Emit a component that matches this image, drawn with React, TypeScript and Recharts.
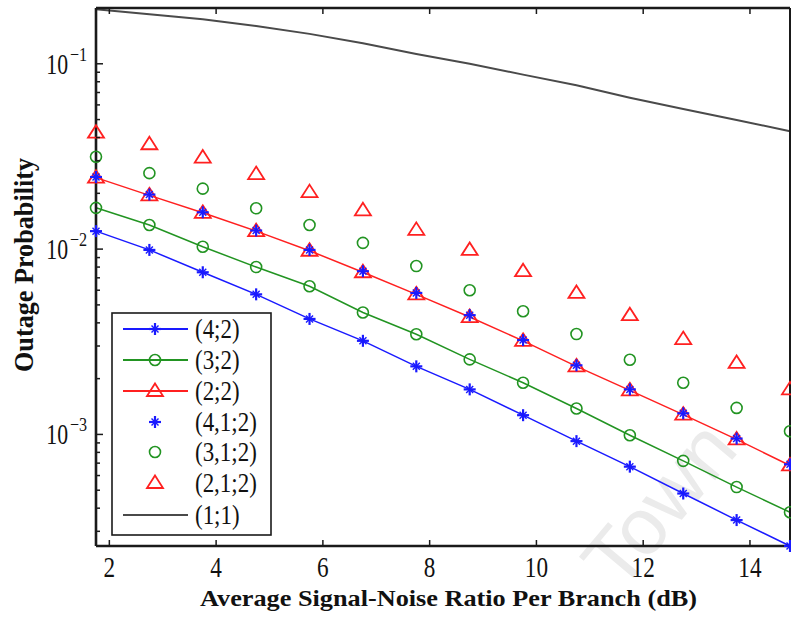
import React from 'react'
import { LineChart, Line, XAxis, YAxis, Legend, Label } from 'recharts'

// SNR per branch (dB)
const snr = [1.75, 2.75, 3.75, 4.75, 5.75, 6.75, 7.75, 8.75, 9.75, 10.75, 11.75, 12.75, 13.75, 14.75]

// outage probability per scheme
const out42 = [0.0125, 0.0099, 0.0075, 0.0057, 0.0042, 0.0032, 0.00233, 0.00175, 0.00127, 0.00092, 0.00067, 0.00048, 0.000345, 0.00025]
const out32 = [0.0167, 0.0135, 0.0103, 0.008, 0.0063, 0.00455, 0.00347, 0.00254, 0.0019, 0.00138, 0.00099, 0.00072, 0.00052, 0.00038]
const out22 = [0.0243, 0.0195, 0.0157, 0.0125, 0.0098, 0.0075, 0.0057, 0.0043, 0.0032, 0.00233, 0.00173, 0.00128, 0.00094, 0.00068]
const out412 = [0.0245, 0.0197, 0.0158, 0.0126, 0.0099, 0.0076, 0.0058, 0.0044, 0.00323, 0.00236, 0.00175, 0.0013, 0.00095, 0.00069]
const out312 = [0.0315, 0.0257, 0.0212, 0.0166, 0.0135, 0.0108, 0.0081, 0.006, 0.00462, 0.00348, 0.00253, 0.0019, 0.00139, 0.00104]
const out212 = [0.0425, 0.0368, 0.0312, 0.0254, 0.0203, 0.0162, 0.0127, 0.0099, 0.0076, 0.0058, 0.0044, 0.00327, 0.00243, 0.00175]
const out11 = [0.197, 0.185, 0.174, 0.16, 0.145, 0.129, 0.113, 0.1, 0.0874, 0.0766, 0.0656, 0.057, 0.0497, 0.0433]

const xTicks = [2, 4, 6, 8, 10, 12, 14]
const yTicks = [
  3e-4, 4e-4, 5e-4, 6e-4, 7e-4, 8e-4, 9e-4,
  1e-3, 2e-3, 3e-3, 4e-3, 5e-3, 6e-3, 7e-3, 8e-3, 9e-3,
  1e-2, 2e-2, 3e-2, 4e-2, 5e-2, 6e-2, 7e-2, 8e-2, 9e-2,
  1e-1,
]

const legendLabels = ['(4;2)', '(3;2)', '(2;2)', '(4,1;2)', '(3,1;2)', '(2,1;2)', '(1;1)']

const C = {
  blue: '#1a1aff',
  green: '#229422',
  red: '#ff2020',
  gray: '#4a4a4a',
  axis: '#1a1a1a',
}
const SERIF = 'Liberation Serif, Times New Roman, Tinos, serif'

const data = snr.map((x, i) => ({
  x,
  a42: out42[i],
  a32: out32[i],
  a22: out22[i],
  b412: out412[i],
  b312: out312[i],
  b212: out212[i],
  c11: out11[i],
}))

const Star = ({ cx, cy, color }: any) => (
  <g stroke={color} fill="none">
    <line x1={cx - 6} x2={cx + 6} y1={cy} y2={cy} strokeWidth={2.2} />
    <line x1={cx} x2={cx} y1={cy - 6} y2={cy + 6} strokeWidth={2.2} />
    <line x1={cx - 3.5} x2={cx + 3.5} y1={cy - 3.5} y2={cy + 3.5} strokeWidth={1.4} />
    <line x1={cx - 3.5} x2={cx + 3.5} y1={cy + 3.5} y2={cy - 3.5} strokeWidth={1.4} />
  </g>
)
const Ring = ({ cx, cy, color }: any) => (
  <circle cx={cx} cy={cy} r={5.5} stroke={color} strokeWidth={1.6} fill="none" />
)
const Tri = ({ cx, cy, color }: any) => (
  <polygon
    points={`${cx},${cy - 7.5} ${cx + 8},${cy + 5} ${cx - 8},${cy + 5}`}
    stroke={color}
    strokeWidth={1.8}
    fill="none"
  />
)

const dotOf = (Shape: any, color: string) => (p: any) =>
  p.cx == null ? <g key={p.index} /> : <Shape key={p.index} cx={p.cx} cy={p.cy} color={color} />

const isDecade = (v: number) => Math.abs(Math.log10(v) - Math.round(Math.log10(v))) < 1e-6

const XTickBottom = ({ x, y, payload }: any) => (
  <g>
    <line x1={x} x2={x} y1={y} y2={y - 6} stroke={C.axis} strokeWidth={1.5} />
    <text transform={`translate(${x},${y + 31}) scale(0.8,1)`} textAnchor="middle" fontFamily={SERIF} fontSize={29} fill="#111">
      {payload.value}
    </text>
  </g>
)
const XTickTop = ({ x, y }: any) => (
  <line x1={x} x2={x} y1={y} y2={y + 6} stroke={C.axis} strokeWidth={1.5} />
)
const YTickLeft = ({ x, y, payload }: any) => {
  const v = payload.value
  const major = isDecade(v)
  const e = Math.round(Math.log10(v))
  return (
    <g>
      <line x1={x} x2={x + (major ? 7 : 4)} y1={y} y2={y} stroke={C.axis} strokeWidth={1.5} />
      {major && (
        <>
          <text transform={`translate(${x - 28},${y + 10}) scale(0.75,1)`} textAnchor="end" fontFamily={SERIF} fontSize={29} fill="#111">
            10
          </text>
          <text transform={`translate(${x - 26},${y - 3}) scale(0.85,1)`} textAnchor="start" fontFamily={SERIF} fontSize={19} fill="#111">
            {'\u2212' + Math.abs(e)}
          </text>
        </>
      )}
    </g>
  )
}
const YTickRight = ({ x, y, payload }: any) => (
  <line x1={x} x2={x - (isDecade(payload.value) ? 7 : 4)} y1={y} y2={y} stroke={C.axis} strokeWidth={1.5} />
)

const LegendBox = () => {
  const rows = [
    { line: C.blue, mark: Star, color: C.blue },
    { line: C.green, mark: Ring, color: C.green },
    { line: C.red, mark: Tri, color: C.red },
    { line: null, mark: Star, color: C.blue },
    { line: null, mark: Ring, color: C.green },
    { line: null, mark: Tri, color: C.red },
    { line: C.gray, mark: null, color: C.gray },
  ]
  const rowY = [17, 48, 79, 110, 140, 171, 203]
  return (
    <svg width={161} height={224} style={{ display: 'block' }}>
      <rect x={1} y={1} width={159} height={222} fill="#fff" stroke={C.axis} strokeWidth={1.6} />
      {rows.map((r, i) => {
        const M = r.mark
        return (
          <g key={i}>
            {r.line && <line x1={12} x2={77} y1={rowY[i]} y2={rowY[i]} stroke={r.line} strokeWidth={r.line === C.gray ? 2.2 : 1.8} />}
            {M && <M cx={44} cy={rowY[i]} color={r.color} />}
            <text transform={`translate(84,${rowY[i] + 9}) scale(0.85,1)`} fontFamily={SERIF} fontSize={27} fill="#111">
              {legendLabels[i]}
            </text>
          </g>
        )
      })}
    </svg>
  )
}

export default function App() {
  return (
    <div style={{ position: 'absolute', left: 0, top: 0, width: 791, height: 617, background: '#fff' }}>
      <svg width={791} height={617} style={{ position: 'absolute', left: 0, top: 0 }}>
        <text
          transform="translate(680,522) rotate(-50)"
          textAnchor="middle"
          fontFamily="Liberation Sans, Arial, sans-serif"
          fontSize={80}
          fill="#ebebeb"
        >
          Town
        </text>
      </svg>
      <div style={{ position: 'absolute', left: 0, top: 0 }}>
        <LineChart width={791} height={617} data={data} margin={{ top: 0, right: 0, bottom: 0, left: 0 }}>
          <XAxis
            dataKey="x"
            type="number"
            domain={[1.75, 14.75]}
            ticks={xTicks}
            interval={0}
            height={71}
            tickSize={0}
            tickMargin={0}
            tick={<XTickBottom />}
            axisLine={{ stroke: C.axis, strokeWidth: 2.4 }}
          >
            <Label
              content={() => (
                <text x={200} y={606} textLength={497} lengthAdjust="spacingAndGlyphs" fontFamily={SERIF} fontWeight="bold" fontSize={24} fill="#111">
                  Average Signal-Noise Ratio Per Branch (dB)
                </text>
              )}
            />
          </XAxis>
          <XAxis
            xAxisId="top"
            orientation="top"
            dataKey="x"
            type="number"
            domain={[1.75, 14.75]}
            ticks={xTicks}
            interval={0}
            height={8}
            tickSize={0}
            tickMargin={0}
            tick={<XTickTop />}
            axisLine={{ stroke: C.axis, strokeWidth: 2.4 }}
          />
          <YAxis
            type="number"
            scale="log"
            domain={[2.5e-4, 0.2]}
            ticks={yTicks}
            interval={0}
            width={96}
            tickSize={0}
            tickMargin={0}
            tick={<YTickLeft />}
            axisLine={{ stroke: C.axis, strokeWidth: 2.6 }}
          >
            <Label
              content={() => (
                <text
                  transform="translate(33,265) rotate(-90)"
                  textAnchor="middle"
                  textLength={214}
                  lengthAdjust="spacingAndGlyphs"
                  fontFamily={SERIF}
                  fontWeight="bold"
                  fontSize={28}
                  fill="#111"
                >
                  Outage Probability
                </text>
              )}
            />
          </YAxis>
          <YAxis
            yAxisId="right"
            orientation="right"
            type="number"
            scale="log"
            domain={[2.5e-4, 0.2]}
            ticks={yTicks}
            interval={0}
            width={1}
            tickSize={0}
            tickMargin={0}
            tick={<YTickRight />}
            axisLine={{ stroke: C.axis, strokeWidth: 2 }}
          />
          <Legend
            layout="vertical"
            align="center"
            verticalAlign="middle"
            content={() => <LegendBox />}
            wrapperStyle={{ left: 111, top: 312, width: 161, height: 224 }}
          />
          <Line dataKey="a42" stroke={C.blue} strokeWidth={1.5} dot={dotOf(Star, C.blue)} activeDot={false} isAnimationActive={false} />
          <Line dataKey="a32" stroke={C.green} strokeWidth={1.5} dot={dotOf(Ring, C.green)} activeDot={false} isAnimationActive={false} />
          <Line dataKey="a22" stroke={C.red} strokeWidth={1.5} dot={dotOf(Tri, C.red)} activeDot={false} isAnimationActive={false} />
          <Line dataKey="b412" stroke="none" dot={dotOf(Star, C.blue)} activeDot={false} isAnimationActive={false} />
          <Line dataKey="b312" stroke="none" dot={dotOf(Ring, C.green)} activeDot={false} isAnimationActive={false} />
          <Line dataKey="b212" stroke="none" dot={dotOf(Tri, C.red)} activeDot={false} isAnimationActive={false} />
          <Line dataKey="c11" stroke={C.gray} strokeWidth={2} dot={false} activeDot={false} isAnimationActive={false} />
        </LineChart>
      </div>
    </div>
  )
}
